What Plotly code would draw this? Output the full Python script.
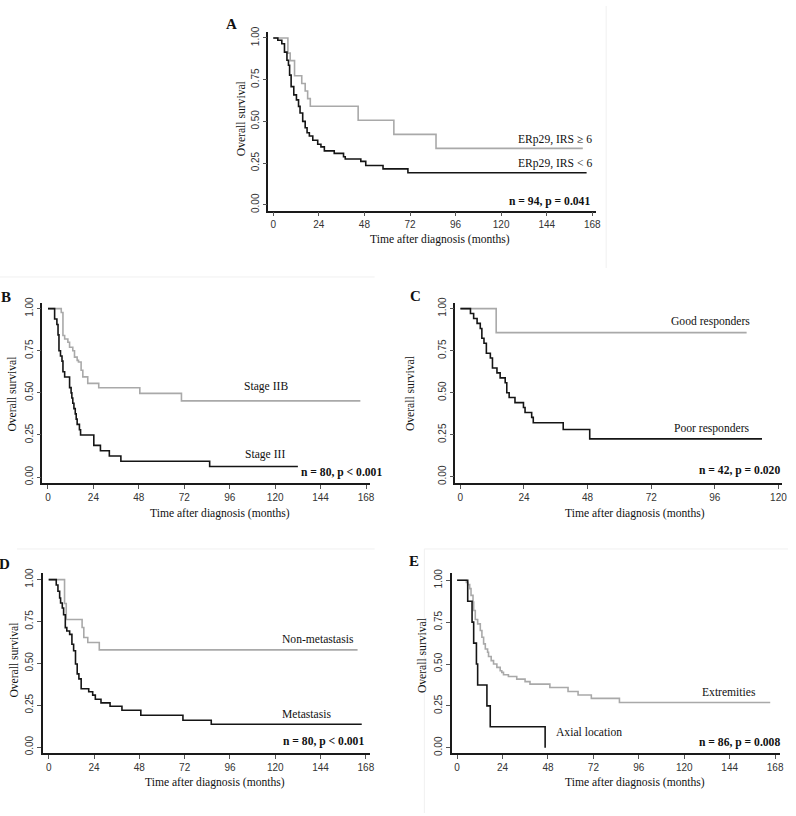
import plotly.graph_objects as go

W, H = 796, 816

# ---- survival curves: time (months) of each step and survival after it ----
a_hi_t = [0, 7.7, 8.9, 11.2, 15.0, 16.8, 18.1, 19.5, 44.7, 63.5, 85.7, 163]
a_hi_s = [1, 0.909, 0.864, 0.773, 0.727, 0.682, 0.636, 0.591, 0.507, 0.422, 0.338, 0.338]
a_lo_t = [0, 2.4, 4.5, 5.9, 7.2, 8.0, 8.6, 9.4, 10.8, 12.2, 13.3, 14.1, 15.5, 16.8, 17.8,
          19.0, 20.8, 23.4, 25.1, 26.9, 32.1, 37.0, 37.9, 46.1, 48.7, 57.8, 70.9, 165]
a_lo_s = [1, 0.986, 0.965, 0.915, 0.866, 0.836, 0.777, 0.708, 0.659, 0.629, 0.59, 0.55, 0.50, 0.462,
          0.432, 0.412, 0.387, 0.363, 0.347, 0.323, 0.308, 0.288, 0.274, 0.26, 0.235, 0.215, 0.192, 0.192]

b_iib_t = [0, 7.0, 7.9, 8.8, 10.5, 11.4, 13.1, 14.0, 15.4, 16.1, 17.5, 18.4, 21.0, 26.8, 48.5, 70.5, 165]
b_iib_s = [1, 0.977, 0.84, 0.82, 0.80, 0.771, 0.75, 0.712, 0.693, 0.683, 0.634, 0.595, 0.556, 0.53,
           0.497, 0.452, 0.452]
b_iii_t = [0, 3.5, 4.7, 5.3, 5.8, 6.6, 7.4, 7.9, 8.8, 11.4, 12.2, 12.6, 13.1, 13.7, 14.4, 14.9, 15.4,
           16.6, 17.2, 24.2, 27.7, 32.4, 38.5, 85.4, 132]
b_iii_s = [1, 0.938, 0.906, 0.844, 0.75, 0.719, 0.688, 0.625, 0.594, 0.531, 0.5, 0.469, 0.438, 0.406,
           0.375, 0.344, 0.313, 0.281, 0.25, 0.188, 0.156, 0.125, 0.094, 0.063, 0.063]

c_good_t = [0, 13.5, 108]
c_good_s = [1, 0.857, 0.857]
c_poor_t = [0, 3.8, 5.0, 6.3, 7.5, 8.1, 8.9, 9.8, 11.3, 12.1, 13.8, 15.0, 16.9, 17.5, 18.4, 20.6,
            23.8, 24.4, 26.9, 27.5, 38.8, 48.8, 113.8]
c_poor_s = [1, 0.971, 0.941, 0.912, 0.882, 0.824, 0.794, 0.735, 0.706, 0.647, 0.618, 0.588, 0.559,
            0.5, 0.471, 0.441, 0.412, 0.382, 0.353, 0.321, 0.281, 0.225, 0.225]

d_non_t = [0, 8.4, 9.3, 17.7, 18.6, 20.7, 26.8, 163.6]
d_non_s = [1, 0.857, 0.762, 0.714, 0.654, 0.624, 0.58, 0.58]
d_met_t = [0, 4.0, 4.9, 5.8, 6.3, 7.2, 7.9, 8.8, 9.6, 11.1, 12.3, 13.2, 14.2, 15.1, 16.0, 17.2, 21.2,
           23.3, 24.7, 27.7, 32.5, 38.8, 48.8, 71.1, 86.1, 165.8]
d_met_s = [1, 0.968, 0.93, 0.89, 0.86, 0.83, 0.79, 0.713, 0.693, 0.673, 0.614, 0.575, 0.496, 0.437,
           0.407, 0.348, 0.33, 0.31, 0.285, 0.264, 0.244, 0.22, 0.19, 0.16, 0.136, 0.136]

e_ext_t = [0, 4.9, 5.6, 6.65, 7.35, 8.4, 8.75, 9.6, 10.85, 12.25, 13.1, 14.0, 14.9, 16.1, 16.6, 18.0,
           19.25, 21.0, 22.75, 23.6, 24.5, 27.1, 31.5, 35.9, 38.5, 49.0, 58.6, 63.9, 70.9, 85.75, 165.4]
e_ext_s = [1, 0.987, 0.974, 0.95, 0.91, 0.87, 0.82, 0.766, 0.74, 0.70, 0.66, 0.62, 0.59, 0.57, 0.545,
           0.52, 0.50, 0.48, 0.46, 0.45, 0.436, 0.425, 0.41, 0.395, 0.38, 0.36, 0.336, 0.315, 0.295,
           0.27, 0.27]
e_ax_t = [0, 5.6, 7.9, 8.75, 10.2, 10.85, 15.75, 17.5, 46.5]
e_ax_s = [1, 0.875, 0.75, 0.625, 0.5, 0.375, 0.25, 0.125, 0]

y_ticks = [0, 0.25, 0.5, 0.75, 1.0]

GRAY = "#a9a9a9"
BLACK = "#151515"
SERIF = "Liberation Serif, Times New Roman, serif"
SANS = "Liberation Sans, Arial, sans-serif"

# panel geometry in pixels: axis box, pixel of x=0 and months/px, pixel of y=1 and y=0
panels = [
    dict(k="", left=270, right=600, top=26, bottom=207, x0=275, xs=1.911, y1=32.3, y0=201, xmax=168),
    dict(k="2", left=42.7, right=372, top=300, bottom=482.5, x0=48.3, xs=1.905, y1=306, y0=476.3, xmax=168),
    dict(k="3", left=458.3, right=787, top=300, bottom=482.5, x0=463.3, xs=2.667, y1=306, y0=476, xmax=120),
    dict(k="4", left=43.3, right=372, top=573, bottom=755.7, x0=49, xs=1.9, y1=580, y0=749.3, xmax=168),
    dict(k="5", left=455, right=785, top=573, bottom=755.7, x0=460, xs=1.905, y1=580.7, y0=750, xmax=168),
]

curves = [
    ("", a_hi_t, a_hi_s, GRAY), ("", a_lo_t, a_lo_s, BLACK),
    ("2", b_iib_t, b_iib_s, GRAY), ("2", b_iii_t, b_iii_s, BLACK),
    ("3", c_good_t, c_good_s, GRAY), ("3", c_poor_t, c_poor_s, BLACK),
    ("4", d_non_t, d_non_s, GRAY), ("4", d_met_t, d_met_s, BLACK),
    ("5", e_ext_t, e_ext_s, GRAY), ("5", e_ax_t, e_ax_s, BLACK),
]


def px(x, y):
    return x / W, 1 - y / H


fig = go.Figure()
for k, t, s, col in curves:
    fig.add_trace(go.Scatter(x=t, y=s, mode="lines", line=dict(color=col, width=1.6, shape="hv"),
                             xaxis="x" + k, yaxis="y" + k, showlegend=False, hoverinfo="skip"))

layout = {}
for p in panels:
    xr = [(p["left"] - p["x0"]) / p["xs"], (p["right"] - p["x0"]) / p["xs"]]
    sc = p["y0"] - p["y1"]
    yr = [(p["y0"] - p["bottom"]) / sc, (p["y0"] - p["top"]) / sc]
    common = dict(showline=True, linecolor="#1a1a1a", linewidth=1.5, ticks="outside", ticklen=4,
                  tickcolor="#555", tickwidth=1, showgrid=False, zeroline=False,
                  tickfont=dict(family=SANS, size=10, color="#333"))
    layout["xaxis" + p["k"]] = dict(common, domain=[p["left"] / W, p["right"] / W], range=xr,
                                    tickvals=list(range(0, p["xmax"] + 1, 24)),
                                    anchor="y" + p["k"])
    layout["yaxis" + p["k"]] = dict(common, domain=[1 - p["bottom"] / H, 1 - p["top"] / H], range=yr,
                                    tickvals=y_ticks, tickformat=".2f", tickangle=-90,
                                    anchor="x" + p["k"])

fig.update_layout(**layout)

annots = []


def txt(x, y, text, size=11.6, bold=False, xanchor="center", angle=0):
    ax, ay = px(x, y)
    annots.append(dict(x=ax, y=ay, xref="paper", yref="paper", text=f"<b>{text}</b>" if bold else text,
                       showarrow=False, xanchor=xanchor, yanchor="middle", textangle=angle,
                       font=dict(family=SERIF, size=size, color="#111")))


# panel letters
for letter, x, y in [("A", 233, 18), ("B", 6, 294), ("C", 418, 293), ("D", 5, 564), ("E", 417, 561)]:
    txt(x, y, letter, size=15, bold=True)

# axis titles
for x, y in [(443, 236), (221, 513), (639, 513), (216, 785), (639, 785)]:
    txt(x, y, "Time after diagnosis (months)")
for x, y in [(243, 114), (13, 392), (413, 392), (15, 661), (425, 657)]:
    txt(x, y, "Overall survival", angle=-90)

# curve labels and statistics
txt(598, 135, "ERp29, IRS ≥ 6", xanchor="right")
txt(598, 159, "ERp29, IRS &lt; 6", xanchor="right")
txt(596, 198, "n = 94, p = 0.041", bold=True, xanchor="right")
txt(268, 385, "Stage IIB")
txt(267, 453, "Stage III")
txt(386, 472, "n = 80, p &lt; 0.001", bold=True, xanchor="right")
txt(715, 319, "Good responders")
txt(716, 427, "Poor responders")
txt(787, 470, "n = 42, p = 0.020", bold=True, xanchor="right")
txt(320, 641, "Non-metastasis")
txt(308, 716, "Metastasis")
txt(368, 744, "n = 80, p &lt; 0.001", bold=True, xanchor="right")
txt(734, 694, "Extremities")
txt(557, 735, "Axial location", xanchor="left")
txt(787, 745, "n = 86, p = 0.008", bold=True, xanchor="right")

# faint edges of the original sub-images
shapes = []
for x0, y0, x1, y1 in [(0, 274, 377, 274), (610, 0, 610, 265), (17, 549, 377, 549),
                       (427, 549, 793, 549), (427, 549, 427, 816)]:
    a0, b0 = px(x0, y0)
    a1, b1 = px(x1, y1)
    shapes.append(dict(type="line", xref="paper", yref="paper", x0=a0, y0=b0, x1=a1, y1=b1,
                       line=dict(color="#f0f0f0", width=1)))

fig.update_layout(width=W, height=H, margin=dict(l=0, r=0, t=0, b=0),
                  paper_bgcolor="white", plot_bgcolor="white",
                  annotations=annots, shapes=shapes)

# drop the browser's default 8px body margin so the figure sits at the window origin
fig.write_html("out.html", config={"displayModeBar": False},
               post_script="document.body.style.margin='0';document.body.style.overflow='hidden';")
